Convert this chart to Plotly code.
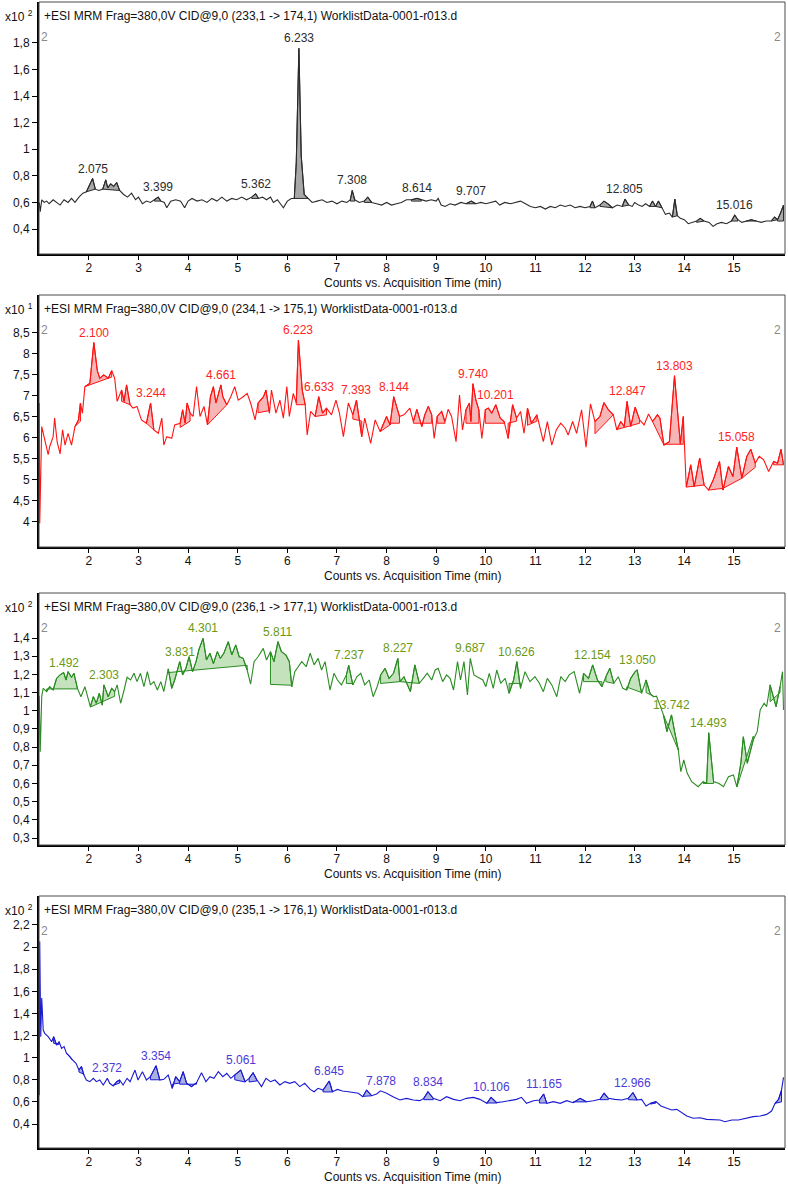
import plotly.graph_objects as go

# ---------------- data (time in min, counts in the panel's x10^n unit) ----------------
TRACE1 = [
    (1.00,0.60),(1.02,0.53),(1.05,0.62),(1.10,0.60),(1.15,0.61),(1.20,0.59),(1.28,0.62),(1.35,0.60),(1.42,0.58),(1.50,0.62),
    (1.58,0.60),(1.65,0.63),(1.72,0.60),(1.80,0.64),(1.88,0.67),(1.95,0.68),(2.02,0.74),(2.075,0.78),(2.13,0.70),(2.20,0.69),
    (2.28,0.70),(2.34,0.77),(2.38,0.71),(2.44,0.74),(2.50,0.72),(2.56,0.75),(2.62,0.69),(2.70,0.66),(2.78,0.64),(2.86,0.67),
    (2.94,0.62),(3.00,0.64),(3.08,0.59),(3.16,0.61),(3.24,0.60),(3.32,0.62),(3.399,0.64),(3.45,0.61),(3.52,0.60),(3.57,0.56),
    (3.65,0.61),(3.75,0.62),(3.85,0.61),(3.93,0.56),(4.00,0.61),(4.08,0.63),(4.18,0.61),(4.28,0.62),(4.38,0.60),(4.48,0.63),
    (4.58,0.61),(4.68,0.64),(4.78,0.61),(4.88,0.63),(4.98,0.62),(5.08,0.64),(5.18,0.62),(5.28,0.64),(5.362,0.665),(5.42,0.63),
    (5.50,0.64),(5.58,0.62),(5.66,0.64),(5.72,0.60),(5.80,0.62),(5.86,0.59),(5.92,0.56),(6.00,0.61),(6.08,0.63),(6.14,0.63),
    (6.18,0.90),(6.233,1.76),(6.28,0.95),(6.34,0.66),(6.42,0.63),(6.50,0.60),(6.60,0.61),(6.70,0.62),(6.80,0.60),(6.90,0.61),
    (7.00,0.59),(7.10,0.61),(7.20,0.60),(7.27,0.62),(7.308,0.69),(7.36,0.62),(7.45,0.60),(7.55,0.61),(7.62,0.64),(7.70,0.60),
    (7.80,0.59),(7.90,0.58),(8.00,0.60),(8.10,0.58),(8.20,0.59),(8.30,0.60),(8.40,0.62),(8.50,0.62),(8.614,0.63),(8.70,0.62),
    (8.80,0.61),(8.90,0.62),(9.00,0.61),(9.04,0.63),(9.10,0.58),(9.18,0.57),(9.28,0.59),(9.38,0.58),(9.50,0.60),(9.60,0.59),
    (9.707,0.61),(9.80,0.59),(9.90,0.60),(10.00,0.59),(10.10,0.60),(10.20,0.61),(10.28,0.58),(10.38,0.60),(10.50,0.59),(10.60,0.60),
    (10.70,0.61),(10.80,0.59),(10.90,0.57),(11.00,0.56),(11.10,0.57),(11.20,0.55),(11.30,0.57),(11.40,0.56),(11.50,0.58),(11.60,0.57),
    (11.70,0.58),(11.80,0.56),(11.90,0.57),(12.00,0.56),(12.10,0.57),(12.15,0.61),(12.20,0.56),(12.30,0.58),(12.38,0.61),(12.46,0.59),
    (12.55,0.56),(12.65,0.58),(12.75,0.57),(12.805,0.625),(12.88,0.58),(12.95,0.57),(13.00,0.60),(13.08,0.58),(13.15,0.57),(13.22,0.59),
    (13.30,0.57),(13.36,0.61),(13.42,0.57),(13.48,0.61),(13.55,0.56),(13.62,0.51),(13.70,0.52),(13.76,0.49),(13.81,0.625),(13.86,0.50),
    (13.92,0.48),(14.00,0.47),(14.08,0.44),(14.15,0.45),(14.25,0.46),(14.32,0.48),(14.40,0.46),(14.50,0.45),(14.58,0.42),(14.66,0.44),
    (14.75,0.45),(14.85,0.44),(14.95,0.46),(15.016,0.505),(15.08,0.47),(15.16,0.45),(15.25,0.46),(15.35,0.47),(15.45,0.46),(15.55,0.45),
    (15.65,0.46),(15.75,0.46),(15.82,0.49),(15.88,0.47),(15.94,0.52),(16.00,0.58),
]
PEAKS1 = [(1.95,2.13,0.68,0.70),(2.28,2.62,0.70,0.69),(3.32,3.45,0.61,0.61),(5.28,5.42,0.63,0.63),
          (6.14,6.42,0.63,0.63),(7.27,7.36,0.61,0.61),(7.55,7.70,0.60,0.60),(8.50,8.70,0.61,0.61),
          (9.60,9.80,0.59,0.59),(12.10,12.20,0.56,0.56),(12.30,12.55,0.57,0.56),(12.75,12.88,0.57,0.58),
          (13.30,13.42,0.57,0.57),(13.42,13.55,0.57,0.56),(13.76,13.86,0.49,0.50),(14.25,14.40,0.45,0.46),
          (14.95,15.08,0.46,0.46),(15.25,15.45,0.46,0.46),(15.75,15.88,0.46,0.47),(15.88,16.00,0.46,0.46)]
LABEL1_T = [2.075, 3.399, 5.362, 6.233, 7.308, 8.614, 9.707, 12.805, 15.016]
LABEL1_TXT = ["2.075", "3.399", "5.362", "6.233", "7.308", "8.614", "9.707", "12.805", "15.016"]

TRACE2 = [
    (1.00,6.83),(1.01,3.97),(1.05,6.27),(1.08,6.11),(1.11,5.91),(1.18,5.60),(1.21,5.79),(1.28,6.03),(1.31,6.47),(1.36,5.91),
    (1.42,5.62),(1.47,6.19),(1.52,5.83),(1.58,6.11),(1.65,5.83),(1.72,6.27),(1.79,6.43),(1.83,6.83),(1.87,6.59),(1.92,7.22),
    (2.02,7.30),(2.10,8.27),(2.17,7.60),(2.22,7.42),(2.30,7.50),(2.39,7.42),(2.46,7.60),(2.52,7.42),(2.57,6.87),(2.66,7.14),
    (2.71,6.87),(2.76,7.26),(2.83,6.79),(2.89,6.71),(2.97,6.75),(3.06,6.43),(3.16,6.35),(3.244,6.83),(3.31,6.19),(3.40,6.11),
    (3.47,6.47),(3.51,5.83),(3.57,6.03),(3.67,5.99),(3.73,6.31),(3.84,6.35),(3.89,6.67),(3.94,6.35),(3.98,6.83),(4.04,6.59),
    (4.10,6.51),(4.17,7.22),(4.24,6.51),(4.32,6.75),(4.39,6.31),(4.45,6.98),(4.51,7.22),(4.56,6.83),(4.661,7.26),(4.70,6.98),
    (4.78,6.79),(4.86,6.98),(4.94,7.22),(5.01,6.90),(5.11,6.98),(5.19,7.06),(5.26,6.83),(5.35,6.43),(5.41,6.83),(5.52,6.98),
    (5.57,7.14),(5.64,6.59),(5.68,7.14),(5.77,6.59),(5.85,6.90),(5.92,6.47),(5.99,7.22),(6.04,6.51),(6.12,7.06),(6.18,6.83),
    (6.223,8.33),(6.30,7.14),(6.36,6.79),(6.40,6.07),(6.47,6.63),(6.56,6.51),(6.633,6.98),(6.71,6.59),(6.79,6.71),(6.89,6.55),
    (6.98,6.90),(7.05,6.59),(7.13,6.03),(7.23,6.83),(7.32,6.55),(7.393,6.90),(7.50,6.03),(7.56,6.47),(7.68,5.87),(7.77,6.43),
    (7.87,6.15),(8.00,6.51),(8.07,6.31),(8.144,6.98),(8.26,6.51),(8.35,6.55),(8.47,6.71),(8.54,6.39),(8.61,6.68),(8.71,6.27),
    (8.77,6.55),(8.84,6.75),(8.91,6.55),(8.96,5.99),(9.02,6.51),(9.11,6.63),(9.18,6.39),(9.24,6.68),(9.31,6.51),(9.40,5.91),
    (9.47,7.02),(9.53,6.19),(9.60,6.67),(9.67,6.83),(9.70,6.39),(9.740,7.29),(9.80,6.90),(9.86,6.67),(9.92,5.99),(9.99,6.67),
    (10.05,6.71),(10.12,6.59),(10.201,6.79),(10.29,6.47),(10.37,6.39),(10.45,5.99),(10.54,6.79),(10.62,6.47),(10.70,6.63),(10.77,6.11),
    (10.84,6.71),(10.92,6.35),(11.03,6.55),(11.09,6.27),(11.16,5.91),(11.24,6.39),(11.33,5.83),(11.42,6.19),(11.51,6.35),(11.60,6.23),
    (11.66,6.07),(11.75,6.39),(11.83,6.11),(11.93,6.67),(12.02,5.78),(12.11,6.81),(12.20,6.39),(12.30,6.51),(12.38,6.84),(12.47,6.67),
    (12.57,6.55),(12.64,6.19),(12.72,6.39),(12.79,6.27),(12.847,6.87),(12.92,6.27),(13.01,6.73),(13.10,6.43),(13.19,6.31),(13.28,6.57),
    (13.36,6.39),(13.46,6.55),(13.51,6.47),(13.59,5.83),(13.70,5.91),(13.803,7.48),(13.92,5.86),(13.98,6.51),(14.04,4.83),(14.13,5.36),
    (14.20,4.84),(14.31,5.52),(14.40,4.88),(14.49,4.76),(14.59,5.02),(14.71,5.44),(14.78,4.76),(14.89,5.32),(14.98,5.08),(15.058,5.78),
    (15.16,5.04),(15.26,5.56),(15.34,5.73),(15.43,5.40),(15.51,5.56),(15.60,5.48),(15.70,5.20),(15.80,5.44),(15.88,5.40),(15.95,5.73),
    (16.00,5.36),
]
PEAKS2 = [(1.72,1.83,6.27,6.40),(1.92,2.46,7.22,7.45),(2.66,2.83,6.87,6.79),(3.16,3.31,6.35,6.19),
          (3.84,4.04,6.25,6.40),(4.39,4.78,6.31,6.79),(5.41,5.64,6.60,6.65),(6.18,6.36,6.79,6.79),
          (6.56,6.79,6.51,6.55),(7.32,7.50,6.45,6.40),(7.87,8.07,6.15,6.31),(8.07,8.26,6.35,6.35),
          (8.54,8.91,6.35,6.35),(9.02,9.18,6.35,6.35),(9.60,9.86,6.35,6.35),(9.99,10.37,6.35,6.35),
          (10.45,10.62,6.35,6.40),(10.84,11.03,6.30,6.40),(12.20,12.57,6.10,6.55),(12.64,13.10,6.20,6.35),
          (13.36,13.59,6.39,5.83),(13.59,13.98,5.85,5.85),(14.04,14.40,4.83,4.88),(14.49,14.78,4.76,4.80),
          (14.78,15.16,4.80,5.04),(15.16,15.43,5.04,5.30),(15.80,16.00,5.36,5.36)]
LABEL2_T = [2.10, 3.244, 4.661, 6.223, 6.633, 7.393, 8.144, 9.740, 10.201, 12.847, 13.803, 15.058]
LABEL2_TXT = ["2.100", "3.244", "4.661", "6.223", "6.633", "7.393", "8.144", "9.740", "10.201", "12.847", "13.803", "15.058"]

TRACE3 = [
    (1.00,1.08),(1.02,0.775),(1.05,1.08),(1.08,1.123),(1.15,1.105),(1.21,1.132),(1.28,1.114),(1.35,1.178),(1.42,1.197),(1.492,1.21),
    (1.54,1.169),(1.58,1.215),(1.65,1.184),(1.70,1.206),(1.77,1.123),(1.84,1.077),(1.92,1.132),(1.99,1.059),(2.03,1.022),(2.09,1.077),
    (2.15,1.041),(2.21,1.096),(2.27,1.031),(2.303,1.142),(2.39,1.077),(2.46,1.123),(2.52,1.105),(2.57,1.142),(2.64,1.041),(2.71,1.114),
    (2.77,1.184),(2.84,1.169),(2.91,1.206),(2.97,1.160),(3.04,1.206),(3.11,1.132),(3.18,1.215),(3.24,1.142),(3.31,1.160),(3.38,1.114),
    (3.45,1.160),(3.51,1.105),(3.60,1.230),(3.67,1.123),(3.73,1.169),(3.831,1.270),(3.89,1.197),(3.955,1.233),(4.02,1.297),(4.09,1.215),
    (4.16,1.270),(4.22,1.338),(4.301,1.398),(4.37,1.279),(4.44,1.316),(4.51,1.260),(4.59,1.325),(4.65,1.288),(4.72,1.316),(4.81,1.380),
    (4.88,1.307),(4.96,1.362),(5.03,1.297),(5.11,1.288),(5.19,1.224),(5.26,1.147),(5.33,1.270),(5.41,1.297),(5.515,1.343),(5.58,1.279),
    (5.66,1.325),(5.73,1.270),(5.811,1.380),(5.88,1.325),(5.97,1.307),(6.04,1.270),(6.09,1.132),(6.15,1.215),(6.22,1.242),(6.29,1.270),
    (6.38,1.242),(6.46,1.316),(6.54,1.252),(6.62,1.288),(6.69,1.224),(6.76,1.270),(6.86,1.114),(6.94,1.206),(7.01,1.169),(7.09,1.142),
    (7.19,1.197),(7.237,1.25),(7.32,1.142),(7.40,1.187),(7.48,1.206),(7.56,1.142),(7.65,1.169),(7.73,1.077),(7.81,1.132),(7.88,1.197),
    (7.97,1.233),(8.05,1.178),(8.14,1.206),(8.227,1.288),(8.27,1.160),(8.35,1.187),(8.42,1.142),(8.48,1.105),(8.57,1.252),(8.66,1.151),
    (8.74,1.178),(8.82,1.206),(8.91,1.169),(8.98,1.224),(9.04,1.233),(9.13,1.160),(9.21,1.197),(9.28,1.178),(9.35,1.114),(9.43,1.270),
    (9.49,1.169),(9.56,1.270),(9.63,1.087),(9.687,1.288),(9.76,1.197),(9.85,1.184),(9.94,1.169),(10.00,1.132),(10.07,1.206),(10.15,1.123),
    (10.22,1.224),(10.30,1.151),(10.39,1.178),(10.47,1.096),(10.56,1.169),(10.626,1.270),(10.70,1.123),(10.79,1.215),(10.89,1.160),(10.99,1.187),
    (11.08,1.151),(11.16,1.105),(11.24,1.178),(11.33,1.142),(11.43,1.077),(11.51,1.187),(11.60,1.160),(11.68,1.197),(11.78,1.215),(11.89,1.096),
    (11.97,1.206),(12.07,1.178),(12.154,1.252),(12.25,1.169),(12.34,1.132),(12.42,1.187),(12.50,1.233),(12.58,1.151),(12.67,1.187),(12.76,1.123),
    (12.84,1.114),(12.92,1.178),(13.01,1.215),(13.050,1.224),(13.14,1.096),(13.23,1.169),(13.31,1.096),(13.38,1.077),(13.44,1.080),(13.51,1.031),
    (13.58,0.977),(13.65,0.885),(13.742,0.977),(13.81,0.876),(13.88,0.784),(13.93,0.665),(13.99,0.729),(14.06,0.656),(14.15,0.610),(14.28,0.582),
    (14.38,0.610),(14.45,0.600),(14.493,0.879),(14.59,0.610),(14.70,0.600),(14.79,0.582),(14.89,0.637),(14.99,0.647),(15.06,0.582),(15.14,0.711),
    (15.19,0.857),(15.27,0.711),(15.39,0.839),(15.47,0.885),(15.53,1.004),(15.61,1.041),(15.66,1.022),(15.73,1.142),(15.80,1.068),(15.85,1.022),
    (15.93,1.132),(15.98,1.215),(16.00,1.004),
]
PEAKS3 = [(1.15,1.77,1.12,1.12),(2.03,2.52,1.02,1.08),(3.60,5.19,1.21,1.25),(5.66,6.09,1.145,1.14),
          (7.19,7.32,1.15,1.15),(7.88,8.27,1.15,1.16),(8.27,8.66,1.16,1.15),(10.47,10.70,1.15,1.15),
          (11.97,12.34,1.16,1.16),(12.42,12.58,1.16,1.15),(12.84,13.14,1.13,1.10),(13.23,13.38,1.10,1.08),
          (13.58,13.88,0.977,0.784),(14.38,14.59,0.60,0.60),(15.06,15.39,0.58,0.86),(15.73,15.93,1.05,1.10)]
LABEL3_T = [1.492, 2.303, 3.831, 4.301, 5.811, 7.237, 8.227, 9.687, 10.626, 12.154, 13.050, 13.742, 14.493]
LABEL3_TXT = ["1.492", "2.303", "3.831", "4.301", "5.811", "7.237", "8.227", "9.687", "10.626", "12.154", "13.050", "13.742", "14.493"]

TRACE4 = [
    (1.00,0.66),(1.01,2.05),(1.03,1.19),(1.05,1.54),(1.08,1.25),(1.11,1.22),(1.18,1.19),(1.25,1.144),(1.29,1.189),(1.35,1.114),
    (1.40,1.144),(1.45,1.084),(1.50,1.100),(1.55,1.039),(1.62,1.009),(1.67,0.979),(1.74,0.949),(1.80,0.888),(1.85,0.920),(1.90,0.843),
    (1.95,0.798),(2.02,0.783),(2.09,0.813),(2.15,0.783),(2.22,0.798),(2.29,0.753),(2.372,0.813),(2.42,0.768),(2.49,0.744),(2.56,0.783),
    (2.62,0.798),(2.69,0.753),(2.77,0.813),(2.83,0.783),(2.93,0.888),(2.99,0.798),(3.08,0.873),(3.16,0.798),(3.24,0.828),(3.354,0.927),
    (3.43,0.798),(3.51,0.804),(3.60,0.843),(3.68,0.723),(3.75,0.828),(3.83,0.783),(3.90,0.873),(3.97,0.768),(4.07,0.738),(4.17,0.774),
    (4.27,0.864),(4.36,0.783),(4.44,0.828),(4.52,0.813),(4.61,0.873),(4.70,0.828),(4.78,0.858),(4.86,0.813),(4.94,0.843),(5.061,0.888),
    (5.15,0.783),(5.23,0.813),(5.31,0.864),(5.39,0.798),(5.48,0.738),(5.57,0.813),(5.66,0.783),(5.75,0.798),(5.85,0.753),(5.95,0.783),
    (6.05,0.768),(6.15,0.783),(6.25,0.738),(6.35,0.768),(6.46,0.713),(6.54,0.692),(6.62,0.723),(6.72,0.707),(6.845,0.789),(6.91,0.692),
    (7.01,0.713),(7.11,0.698),(7.23,0.692),(7.33,0.686),(7.43,0.678),(7.52,0.647),(7.597,0.707),(7.70,0.656),(7.80,0.671),(7.878,0.700),
    (8.00,0.678),(8.13,0.647),(8.27,0.617),(8.40,0.632),(8.54,0.617),(8.67,0.611),(8.75,0.632),(8.834,0.692),(8.94,0.632),(9.08,0.611),
    (9.21,0.647),(9.35,0.623),(9.48,0.611),(9.61,0.632),(9.75,0.641),(9.88,0.623),(10.02,0.587),(10.106,0.641),(10.22,0.593),(10.35,0.602),
    (10.49,0.611),(10.62,0.623),(10.72,0.641),(10.82,0.587),(10.96,0.611),(11.08,0.617),(11.165,0.671),(11.23,0.587),(11.36,0.602),(11.50,0.587),
    (11.63,0.611),(11.76,0.593),(11.90,0.632),(12.03,0.602),(12.17,0.611),(12.30,0.623),(12.383,0.678),(12.47,0.632),(12.60,0.623),(12.74,0.617),
    (12.87,0.632),(12.966,0.683),(13.05,0.617),(13.14,0.623),(13.23,0.563),(13.32,0.587),(13.43,0.602),(13.53,0.563),(13.65,0.542),(13.75,0.527),
    (13.85,0.532),(13.95,0.502),(14.05,0.472),(14.18,0.452),(14.32,0.457),(14.45,0.442),(14.59,0.436),(14.72,0.436),(14.82,0.421),(14.96,0.436),
    (15.09,0.436),(15.26,0.452),(15.39,0.467),(15.53,0.472),(15.66,0.487),(15.76,0.517),(15.83,0.587),(15.90,0.623),(15.96,0.707),(16.00,0.822),
]
PEAKS4 = [(1.29,1.40,1.13,1.12),(1.55,1.67,1.04,0.98),(1.80,1.90,0.87,0.85),(2.49,2.62,0.75,0.77),
          (3.24,3.43,0.80,0.80),(3.68,3.83,0.76,0.77),(3.83,4.17,0.76,0.76),(4.94,5.15,0.80,0.78),
          (5.23,5.39,0.78,0.79),(6.72,6.91,0.69,0.69),(7.52,7.70,0.65,0.655),(8.75,8.94,0.62,0.62),
          (10.02,10.22,0.59,0.59),(11.08,11.23,0.59,0.59),(11.76,12.03,0.60,0.60),(12.30,12.47,0.62,0.62),
          (12.87,13.05,0.62,0.617),(13.32,13.43,0.58,0.59),(15.83,15.96,0.587,0.60)]
LABEL4_T = [2.372, 3.354, 5.061, 6.845, 7.878, 8.834, 10.106, 11.165, 12.966]
LABEL4_TXT = ["2.372", "3.354", "5.061", "6.845", "7.878", "8.834", "10.106", "11.165", "12.966"]

HEADERS = [
    "+ESI MRM Frag=380,0V CID@9,0 (233,1 -> 174,1) WorklistData-0001-r013.d",
    "+ESI MRM Frag=380,0V CID@9,0 (234,1 -> 175,1) WorklistData-0001-r013.d",
    "+ESI MRM Frag=380,0V CID@9,0 (236,1 -> 177,1) WorklistData-0001-r013.d",
    "+ESI MRM Frag=380,0V CID@9,0 (235,1 -> 176,1) WorklistData-0001-r013.d",
]
EXPONENTS = ["2", "1", "2", "2"]
X_TICKS = [2, 3, 4, 5, 6, 7, 8, 9, 10, 11, 12, 13, 14, 15]
X_TICK_TXT = [str(v) for v in X_TICKS]
X_TITLE = "Counts vs. Acquisition Time (min)"

Y_TICKS = [
    [0.4, 0.6, 0.8, 1.0, 1.2, 1.4, 1.6, 1.8],
    [4.0, 4.5, 5.0, 5.5, 6.0, 6.5, 7.0, 7.5, 8.0, 8.5],
    [0.3, 0.4, 0.5, 0.6, 0.7, 0.8, 0.9, 1.0, 1.1, 1.2, 1.3, 1.4],
    [0.4, 0.6, 0.8, 1.0, 1.2, 1.4, 1.6, 1.8, 2.0, 2.2],
]
Y_TICK_TXT = [
    ["0,4", "0,6", "0,8", "1", "1,2", "1,4", "1,6", "1,8"],
    ["4", "4,5", "5", "5,5", "6", "6,5", "7", "7,5", "8", "8,5"],
    ["0,3", "0,4", "0,5", "0,6", "0,7", "0,8", "0,9", "1", "1,1", "1,2", "1,3", "1,4"],
    ["0,4", "0,6", "0,8", "1", "1,2", "1,4", "1,6", "1,8", "2", "2,2"],
]
Y_RANGES = [[0.212, 2.108], [3.405, 9.40], [0.2615, 1.6475], [0.183, 2.462]]
X_RANGE = [0.995, 16.03]

# ---------------- styling / layout constants ----------------
FONT = "Liberation Sans, Arial, sans-serif"
W, H = 788, 1185
PLOT_L, PLOT_R = 39, 785
PANEL_TOPS = [2, 295, 593, 896]
PANEL_H = 252
LINE_COLORS = ["#2b2b2b", "#ff1414", "#2a8c22", "#1a1ad0"]
FILL_COLORS = ["#a8a8a8", "#f7b6b6", "#c4e3bd", "#aab0e0"]
LABEL_COLORS = ["#2b2b2b", "#ff2424", "#6a9a12", "#4a3ad8"]

panels = [
    (TRACE1, PEAKS1, LABEL1_T, LABEL1_TXT),
    (TRACE2, PEAKS2, LABEL2_T, LABEL2_TXT),
    (TRACE3, PEAKS3, LABEL3_T, LABEL3_TXT),
    (TRACE4, PEAKS4, LABEL4_T, LABEL4_TXT),
]

fig = go.Figure()
annotations = []
shapes = []
layout_axes = {}

for i, (trace, peaks, lab_t, lab_txt) in enumerate(panels):
    n = i + 1
    xa = "x" if n == 1 else f"x{n}"
    ya = "y" if n == 1 else f"y{n}"
    xkey = "xaxis" if n == 1 else f"xaxis{n}"
    ykey = "yaxis" if n == 1 else f"yaxis{n}"
    T = [p[0] for p in trace]
    V = [p[1] for p in trace]

    # integrated peak areas (filled to their baseline)
    for (s, e, bs, be) in peaks:
        idx = [k for k, t in enumerate(T) if s - 1e-9 <= t <= e + 1e-9]
        xs = [s] + [T[k] for k in idx] + [e, s]
        ys = [bs] + [V[k] for k in idx] + [be, bs]
        fig.add_trace(go.Scatter(
            x=xs, y=ys, xaxis=xa, yaxis=ya, mode="lines", fill="toself",
            fillcolor=FILL_COLORS[i], line=dict(color=LINE_COLORS[i], width=1),
            hoverinfo="skip", showlegend=False))

    fig.add_trace(go.Scatter(
        x=T, y=V, xaxis=xa, yaxis=ya, mode="lines",
        line=dict(color=LINE_COLORS[i], width=1.1), showlegend=False))

    top = PANEL_TOPS[i]
    bot = top + PANEL_H
    layout_axes[xkey] = dict(
        domain=[PLOT_L / W, PLOT_R / W], range=X_RANGE, anchor=ya,
        tickvals=X_TICKS, ticktext=X_TICK_TXT, ticks="outside", ticklen=4,
        tickwidth=1, tickcolor="#000", showline=True, linecolor="#000",
        linewidth=2, showgrid=False, zeroline=False, ticklabelstandoff=-2,
        tickfont=dict(family=FONT, size=12, color="#111"))
    layout_axes[ykey] = dict(
        domain=[1 - bot / H, 1 - top / H], range=Y_RANGES[i], anchor=xa,
        tickvals=Y_TICKS[i], ticktext=Y_TICK_TXT[i], ticks="outside", ticklen=5,
        tickwidth=1, tickcolor="#000", showline=True, linecolor="#000",
        linewidth=2, showgrid=False, zeroline=False,
        tickfont=dict(family=FONT, size=12, color="#111"))

    shapes.append(dict(type="rect", xref=f"{xa} domain", yref=f"{ya} domain",
                       x0=0, x1=1, y0=0, y1=1, line=dict(color="#4a4a4a", width=1)))

    # peak retention-time labels
    for t_lab, txt in zip(lab_t, lab_txt):
        k = min(range(len(T)), key=lambda j: abs(T[j] - t_lab))
        annotations.append(dict(
            x=t_lab, y=V[k], xref=xa, yref=ya, text=txt, showarrow=False,
            yanchor="bottom", xanchor="center", yshift=1,
            font=dict(family=FONT, size=12, color=LABEL_COLORS[i])))

    # header line inside plot
    annotations.append(dict(
        x=3 / (PLOT_R - PLOT_L), y=1 - 13.5 / PANEL_H, xref=f"{xa} domain", yref=f"{ya} domain",
        text=HEADERS[i], showarrow=False, xanchor="left", yanchor="middle",
        font=dict(family=FONT, size=12, color="#111")))
    # exponent label
    annotations.append(dict(
        x=3 / W, y=1 - 13.5 / PANEL_H, xref="paper", yref=f"{ya} domain",
        text=f"x10 <sup>{EXPONENTS[i]}</sup>", showarrow=False, xanchor="left", yanchor="middle",
        font=dict(family=FONT, size=12, color="#111")))
    # small grey markers
    for xpos in (5.5 / (PLOT_R - PLOT_L), 1 - 7.5 / (PLOT_R - PLOT_L)):
        annotations.append(dict(
            x=xpos, y=1 - 34.5 / PANEL_H, xref=f"{xa} domain", yref=f"{ya} domain",
            text="2", showarrow=False, xanchor="center", yanchor="middle",
            font=dict(family=FONT, size=12, color="#8a8a8a")))
    # x-axis title
    annotations.append(dict(
        x=0.5, y=-29 / PANEL_H, xref=f"{xa} domain", yref=f"{ya} domain",
        text=X_TITLE, showarrow=False, xanchor="center", yanchor="middle",
        font=dict(family=FONT, size=12, color="#111")))

fig.update_layout(
    width=W, height=H, margin=dict(l=0, r=0, t=0, b=0),
    paper_bgcolor="white", plot_bgcolor="white",
    font=dict(family=FONT, size=12, color="#111"),
    showlegend=False, annotations=annotations, shapes=shapes,
    **layout_axes)

fig.write_html("out.html")
